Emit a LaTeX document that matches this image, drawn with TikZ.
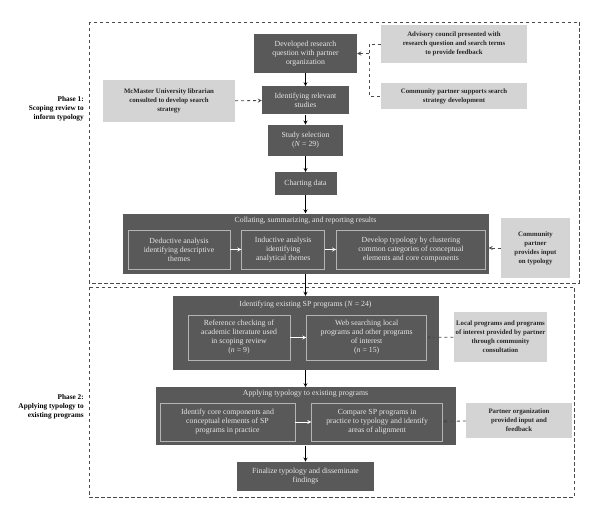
\documentclass[tikz,border=0pt]{standalone}
\usepackage{fontspec}
\setmainfont{Liberation Serif}
\usetikzlibrary{arrows, positioning}
\definecolor{boxgray}{HTML}{595959}
\definecolor{boxtext}{HTML}{E6E6E6}
\definecolor{linegray}{HTML}{B4B4B4}
\definecolor{lightfill}{HTML}{D4D4D4}
\definecolor{dashgray}{HTML}{4A4A4A}
\tikzstyle{darkbox} = [rectangle, fill=boxgray, text=boxtext, align=center, inner sep=2pt, font=\fontsize{7.8}{9}\selectfont]
\tikzstyle{innerbox} = [rectangle, draw=linegray, line width=0.7pt, text=boxtext, align=center, inner sep=2pt, font=\fontsize{7.8}{9}\selectfont]
\tikzstyle{boxtitle} = [text=boxtext, inner sep=2pt, font=\fontsize{7.8}{9}\selectfont]
\tikzstyle{lightbox} = [rectangle, fill=lightfill, text=black!85, align=center, inner sep=2pt, font=\fontsize{6.8}{9}\selectfont\bfseries]
\tikzstyle{phaselabel} = [align=right, inner sep=0pt, font=\fontsize{7.3}{9}\selectfont\bfseries]
\tikzstyle{frame} = [draw=dashgray, dash pattern=on 3.5pt off 2.5pt, line width=0.7pt]
\tikzstyle{arrow} = [thick,->,>=stealth]
\tikzstyle{whitearrow} = [thick,->,>=stealth, draw=white]
\tikzstyle{dasharrow} = [thick,dashed,->,>=stealth, draw=dashgray]
\tikzstyle{dashline} = [thick,dashed, draw=dashgray]

\begin{document}
\begin{tikzpicture}[x=1pt, y=-1pt]
    \useasboundingbox (0,0) rectangle (600,518);
    \fill[white] (0,0) rectangle (600,518);

    % phase frames
    \draw [frame] (89,22) rectangle (579,283);
    \draw [frame] (89,287) rectangle (574,497);
    \node (phaseone) [phaselabel, anchor=east] at (84,109) {Phase 1:\\Scoping review to\\inform typology};
    \node (phasetwo) [phaselabel, anchor=east] at (84,407) {Phase 2:\\Applying typology to\\existing programs};

    % phase 1 column
    \node (dev) [darkbox, minimum width=103pt, minimum height=39pt] at (305.5,53.5) {Developed research\\question with partner\\organization};
    \node (ident) [darkbox, minimum width=87pt, minimum height=28pt, below=13pt of dev] {Identifying relevant\\studies};
    \node (select) [darkbox, minimum width=75pt, minimum height=31pt, below=10pt of ident] {Study selection\\(\textit{N} = 29)};
    \node (chart) [darkbox, minimum width=62pt, minimum height=23pt, below=16pt of select] {Charting data};
    \node (coll) [darkbox, minimum width=366pt, minimum height=60pt, below=18pt of chart] {};
    \node (colltitle) [boxtitle, below=1.5pt of coll.north] {Collating, summarizing, and reporting results};
    \node (deduct) [innerbox, minimum width=102pt, minimum height=39pt] at (179,249.5) {Deductive analysis\\identifying descriptive\\themes};
    \node (induct) [innerbox, minimum width=83pt, minimum height=39pt, right=11pt of deduct] {Inductive analysis\\identifying\\analytical themes};
    \node (typo) [innerbox, minimum width=149pt, minimum height=39pt, right=11pt of induct] {Develop typology by clustering\\common categories of conceptual\\elements and core components};

    % phase 1 inputs
    \node (advis) [lightbox, minimum width=146pt, minimum height=38pt] at (454,44) {Advisory council presented with\\research question and search terms\\to provide feedback};
    \node (csup) [lightbox, minimum width=146pt, minimum height=26pt] at (454,96) {Community partner supports search\\strategy development};
    \node (libr) [lightbox, minimum width=132pt, minimum height=42pt] at (169,101) {McMaster University librarian\\consulted to develop search\\strategy};
    \node (cpart) [lightbox, minimum width=69pt, minimum height=60pt] at (535.5,248) {Community\\partner\\provides input\\on typology};
    \coordinate (brk) at (369,70);

    % phase 2 column
    \node (exist) [darkbox, minimum width=266pt, minimum height=74pt, below=22pt of coll] {};
    \node (existtitle) [boxtitle, below=3.5pt of exist.north] {Identifying existing SP programs (\textit{N} = 24)};
    \node (refcheck) [innerbox, minimum width=102pt, minimum height=45pt] at (239,337.5) {Reference checking of\\academic literature used\\in scoping review\\(\textit{n} = 9)};
    \node (websrch) [innerbox, minimum width=120pt, minimum height=45pt, right=16pt of refcheck] {Web searching local\\programs and other programs\\of interest\\(\textit{n} = 15)};
    \node (apply) [darkbox, minimum width=300pt, minimum height=58pt, below=17pt of exist] {};
    \node (applytitle) [boxtitle, below=1pt of apply.north] {Applying typology to existing programs};
    \node (core) [innerbox, minimum width=135pt, minimum height=38pt] at (227.5,422) {Identify core components and\\conceptual elements of SP\\programs in practice};
    \node (compare) [innerbox, minimum width=131pt, minimum height=38pt, right=16pt of core] {Compare SP programs in\\practice to typology and identify\\areas of alignment};
    \node (final) [darkbox, minimum width=137pt, minimum height=29pt, below=16pt of apply] {Finalize typology and disseminate\\findings};

    % phase 2 inputs
    \node (local) [lightbox, minimum width=93pt, minimum height=50pt] at (500.5,337) {Local programs and programs\\of interest provided by partner\\through community\\consultation};
    \node (porg) [lightbox, minimum width=106pt, minimum height=35pt] at (519,420.5) {Partner organization\\provided input and\\feedback};

    % main flow
    \draw [arrow] (dev) -- (ident);
    \draw [arrow] (ident) -- (select);
    \draw [arrow] (select) -- (chart);
    \draw [arrow] (chart) -- (coll);
    \draw [arrow] (coll) -- (exist);
    \draw [arrow] (exist) -- (apply);
    \draw [arrow] (apply) -- (final);

    % inner flow
    \draw [whitearrow] (deduct) -- (induct);
    \draw [whitearrow] (induct) -- (typo);
    \draw [whitearrow] (refcheck) -- (websrch);
    \draw [whitearrow] (core) -- (compare);

    % inputs
    \draw [dashline] (advis.west) -| (brk) |- (csup.west);
    \draw [dasharrow] (dev.east -| brk) -- (dev.east);
    \draw [dasharrow] (libr) -- (ident);
    \draw [dasharrow] (cpart.west) -- (cpart.west -| coll.east);
    \draw [dasharrow] (local) -- (websrch);
    \draw [dasharrow] (porg) -- (compare);

\end{tikzpicture}
\end{document}
